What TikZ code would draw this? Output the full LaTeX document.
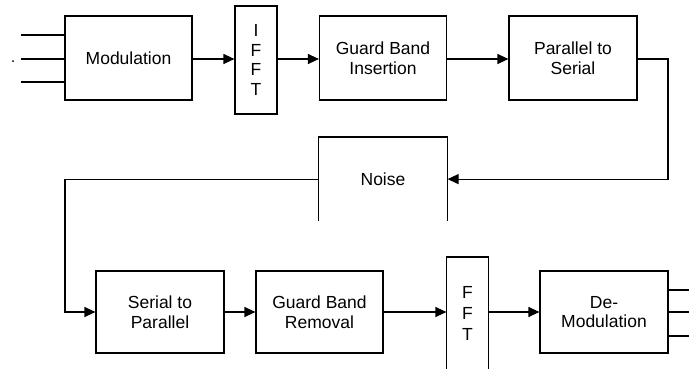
\documentclass[tikz,border=0pt]{standalone}
\usepackage{fontspec}
\setmainfont{Liberation Sans}
\usetikzlibrary{arrows.meta,calc}
\begin{document}
\begin{tikzpicture}[x=1pt,y=-1pt,
  line width=1.2pt,
  blk/.style={draw, rectangle, align=center, inner sep=0pt, font=\fontsize{17.5}{19.5}\selectfont},
  opn/.style={rectangle, align=center, inner sep=0pt, font=\fontsize{17.5}{19.5}\selectfont},
  arr/.style={-{Triangle[length=11pt,width=10pt]}}]
\useasboundingbox (0,0) rectangle (689,368);
% top row
\node[blk, minimum width=127pt, minimum height=84pt] (mod) at (128.5,58) {Modulation};
\node[blk, minimum width=42pt, minimum height=108pt] (ifft) at (256,60) {I\\F\\F\\T};
\node[blk, minimum width=127pt, minimum height=84pt] (gbi) at (383,58) {Guard Band\\Insertion};
\node[blk, minimum width=128pt, minimum height=84pt] (p2s) at (573,58) {Parallel to\\Serial};
% noise
\node[opn, minimum width=128pt, minimum height=83pt, anchor=north] (noise) at (383,137) {Noise};
\draw (noise.south west) -- (noise.north west) -- (noise.north east) -- (noise.south east);
% bottom row
\node[blk, minimum width=128pt, minimum height=82pt] (s2p) at (160,312) {Serial to\\Parallel};
\node[blk, minimum width=127pt, minimum height=82pt] (gbr) at (319.5,312) {Guard Band\\Removal};
\node[opn, minimum width=41pt, minimum height=111pt, anchor=north, font=\fontsize{17.5}{21}\selectfont] (fft) at (467.5,257) {F\\F\\T};
\draw (fft.south west) -- (fft.north west) -- (fft.north east) -- (fft.south east);
\node[blk, minimum width=128pt, minimum height=82pt] (demod) at (604,312) {De-\\Modulation};
% input lines
\node[circle, fill=black, inner sep=0pt, minimum size=2pt] (dot) at (13,61) {};
\coordinate (in1) at (21,35);
\coordinate (in2) at (21,59);
\coordinate (in3) at (21,82);
\draw (in1) -- (in1 -| mod.west);
\draw (in2) -- (in2 -| mod.west);
\draw (in3) -- (in3 -| mod.west);
% top connectors
\draw[arr] (mod.east |- in2) -- (ifft.west |- in2);
\draw[arr] (ifft.east |- in2) -- (gbi.west |- in2);
\draw[arr] (gbi.east |- in2) -- (p2s.west |- in2);
\coordinate (rturn) at (668,59);
\draw[arr] (p2s.east |- rturn) -- (rturn) |- (noise.east);
\coordinate (lturn) at (65,312);
\draw[arr] (noise.west) -| (lturn) -- (s2p.west);
% bottom connectors
\draw[arr] (s2p.east) -- (gbr.west);
\draw[arr] (gbr.east) -- (gbr.east -| fft.west);
\draw[arr] (fft.east |- demod.west) -- (demod.west);
% outputs
\coordinate (out1) at (689,290);
\coordinate (out2) at (689,312);
\coordinate (out3) at (689,336);
\draw (demod.east |- out1) -- (out1);
\draw (demod.east |- out2) -- (out2);
\draw (demod.east |- out3) -- (out3);
\end{tikzpicture}
\end{document}
